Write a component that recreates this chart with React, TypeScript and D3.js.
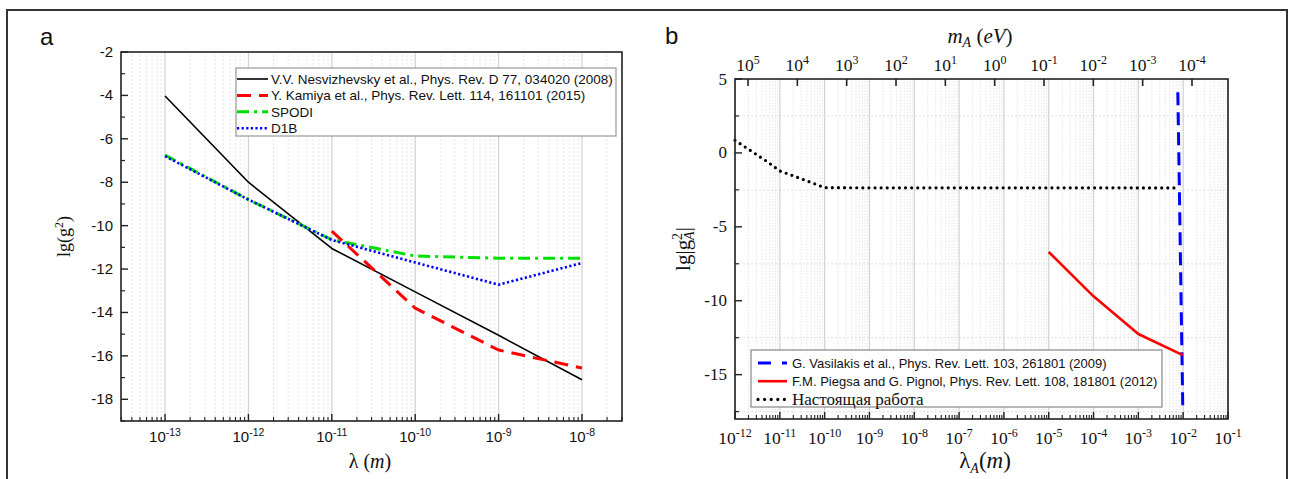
import React from "react";
import * as d3 from "d3";

// ---------- Panel a data: lg(g^2) vs lambda ----------
const lambdaA = [1e-13, 1e-12, 1e-11, 1e-10, 1e-9, 1e-8];
const nesvizhevsky = [-4.03, -8.0, -11.05, -13.05, -15.05, -17.1];
const kamiyaLambda = [1e-11, 1e-10, 1e-9, 1e-8];
const kamiya = [-10.25, -13.8, -15.73, -16.56];
const spodi = [-6.75, -8.8, -10.65, -11.4, -11.5, -11.5];
const d1b = [-6.8, -8.8, -10.66, -11.7, -12.72, -11.72];
const legendA = [
  "V.V. Nesvizhevsky et al., Phys. Rev. D 77, 034020 (2008)",
  "Y. Kamiya et al., Phys. Rev. Lett. 114, 161101 (2015)",
  "SPODI",
  "D1B",
];
const yTicksA = [-2, -4, -6, -8, -10, -12, -14, -16, -18];
const xTickExpA = [-13, -12, -11, -10, -9, -8];

// ---------- Panel b data: lg|g_A^2| vs lambda_A ----------
const vasilakisLambda = [7.6e-3, 9.8e-3];
const vasilakis = [4.1, -17.3];
const piegsaLambda = [1e-5, 1e-4, 1e-3, 9.8e-3];
const piegsa = [-6.7, -9.7, -12.25, -13.68];
const presentLambda = [1e-12, 2e-12, 5e-12, 1e-11, 2e-11, 5e-11, 1e-10, 1e-9, 1e-8, 1e-6, 1e-4, 7.85e-3];
const present = [0.85, 0.25, -0.55, -1.22, -1.55, -2.0, -2.35, -2.36, -2.36, -2.36, -2.36, -2.37];
const legendB = [
  "G. Vasilakis et al., Phys. Rev. Lett. 103, 261801 (2009)",
  "F.M. Piegsa and G. Pignol, Phys. Rev. Lett. 108, 181801 (2012)",
  "Настоящая работа",
];
const yTicksB = [5, 0, -5, -10, -15];
const yMinorB = [2.5, -2.5, -7.5, -12.5, -17.5];
const xTickExpB = [-12, -11, -10, -9, -8, -7, -6, -5, -4, -3, -2, -1];
const massTickExp = [5, 4, 3, 2, 1, 0, -1, -2, -3, -4];

const SANS = "'Liberation Sans', Arial, sans-serif";
const SERIF = "'Liberation Serif', 'Times New Roman', serif";
const GRID = "#d4d4d4";
const GRID_MINOR = "#e0e0e0";

function minorLogValues(lo: number, hi: number) {
  const out: number[] = [];
  for (let e = Math.floor(Math.log10(lo)); e <= Math.ceil(Math.log10(hi)); e++) {
    for (let k = 2; k <= 9; k++) {
      const v = k * Math.pow(10, e);
      if (v > lo && v < hi) out.push(v);
    }
  }
  return out;
}

function Pow({ x, y, exp, size, sup, anchor = "middle", family }: any) {
  return (
    <text x={x} y={y} fontSize={size} fontFamily={family} textAnchor={anchor} fill="#111">
      <tspan>10</tspan>
      <tspan dy={-size * 0.42} fontSize={sup}>{String(exp)}</tspan>
    </text>
  );
}

function PanelA() {
  const x = d3.scaleLog().domain([Math.pow(10, -13.528), Math.pow(10, -7.52)]).range([121, 622]);
  const y = d3.scaleLinear().domain([-19, -2]).range([421, 52]);
  const [x0, x1] = x.range();
  const [yb, yt] = y.range();
  const line = d3.line<[number, number]>().x((d) => x(d[0])).y((d) => y(d[1]));
  const pts = (xs: number[], ys: number[]) => xs.map((v, i) => [v, ys[i]] as [number, number]);
  const majors = xTickExpA.map((e) => Math.pow(10, e));
  const minors = minorLogValues(x.domain()[0], x.domain()[1]);
  const yMinor = d3.range(-19, -2, 1).filter((v) => v % 2 !== 0);

  const series = [
    { d: pts(lambdaA, nesvizhevsky), stroke: "#000", w: 1.6, dash: "" },
    { d: pts(kamiyaLambda, kamiya), stroke: "#ff0000", w: 3, dash: "14 8" },
    { d: pts(lambdaA, spodi), stroke: "#00e000", w: 3, dash: "12 5 3 5" },
    { d: pts(lambdaA, d1b), stroke: "#0000ff", w: 2.6, dash: "2.2 2.4" },
  ];
  const legendX = 236, legendY = 68;
  return (
    <g>
      {/* vertical grid */}
      {minors.map((v, i) => (
        <line key={"m" + i} x1={x(v)} x2={x(v)} y1={yb} y2={yt} stroke={GRID_MINOR} strokeWidth={0.8} strokeDasharray="2 2" />
      ))}
      {majors.map((v, i) => (
        <line key={"M" + i} x1={x(v)} x2={x(v)} y1={yb} y2={yt} stroke={GRID} strokeWidth={1.3} />
      ))}
      {series.map((s, i) => (
        <path key={i} d={line(s.d) || ""} fill="none" stroke={s.stroke} strokeWidth={s.w}
          strokeDasharray={s.dash || undefined} strokeLinejoin="round" />
      ))}
      {/* frame */}
      <rect x={x0} y={yt} width={x1 - x0} height={yb - yt} fill="none" stroke="#222" strokeWidth={1.6} />
      {/* y ticks */}
      {yTicksA.map((v) => (
        <g key={v}>
          <line x1={x0} x2={x0 + 7} y1={y(v)} y2={y(v)} stroke="#222" strokeWidth={1.4} />
          <text x={x0 - 8} y={y(v) + 5} fontSize={15} fontFamily={SANS} textAnchor="end" fill="#111">{v}</text>
        </g>
      ))}
      {yMinor.map((v) => (
        <line key={"ym" + v} x1={x0} x2={x0 + 4} y1={y(v)} y2={y(v)} stroke="#222" strokeWidth={1.2} />
      ))}
      {/* x ticks */}
      {majors.map((v, i) => (
        <g key={"xt" + i}>
          <line x1={x(v)} x2={x(v)} y1={yb} y2={yb - 7} stroke="#222" strokeWidth={1.4} />
          <Pow x={x(v)} y={442} exp={xTickExpA[i]} size={15} sup={10.5} family={SANS} />
        </g>
      ))}
      {minors.map((v, i) => (
        <line key={"xm" + i} x1={x(v)} x2={x(v)} y1={yb} y2={yb - 4} stroke="#222" strokeWidth={1.1} />
      ))}
      {/* legend */}
      <rect x={legendX} y={legendY} width={380} height={68} fill="#fff" stroke="#999" strokeWidth={1.2} />
      {series.map((s, i) => {
        const ly = legendY + 11 + i * 16.4;
        return (
          <g key={"lg" + i}>
            <line x1={legendX + 1} x2={legendX + 32} y1={ly} y2={ly} stroke={s.stroke} strokeWidth={s.w}
              strokeDasharray={s.dash || undefined} />
            <text x={legendX + 35} y={ly + 5} fontSize={13.5} fontFamily={SANS} fill="#111">{legendA[i]}</text>
          </g>
        );
      })}
      {/* axis titles */}
      <text x={40} y={45} fontSize={24} fontFamily={SANS} fill="#111">a</text>
      <text transform={`translate(70,${(yt + yb) / 2}) rotate(-90)`} textAnchor="middle" fontSize={18}
        fontFamily={SERIF} fill="#111">
        lg(g<tspan dy={-7} fontSize={12}>2</tspan><tspan dy={7}>)</tspan>
      </text>
      <text x={370} y={468} textAnchor="middle" fontSize={20} fontFamily={SERIF} fill="#111">
        λ (<tspan fontStyle="italic">m</tspan>)
      </text>
    </g>
  );
}

function PanelB() {
  const x = d3.scaleLog().domain([1e-12, 1e-1]).range([735, 1228]);
  const m = d3.scaleLog().domain([Math.pow(10, 5.264), Math.pow(10, -4.73)]).range([735, 1228]);
  const y = d3.scaleLinear().domain([-18, 5]).range([419, 79]);
  const [x0, x1] = x.range();
  const [yb, yt] = y.range();
  const line = d3.line<[number, number]>().x((d) => x(d[0])).y((d) => y(d[1]));
  const pts = (xs: number[], ys: number[]) => xs.map((v, i) => [v, ys[i]] as [number, number]);
  const majors = xTickExpB.map((e) => Math.pow(10, e));
  const minors = minorLogValues(1e-12, 1e-1);

  const series = [
    { d: pts(vasilakisLambda, vasilakis), stroke: "#0000ff", w: 3, dash: "13 7", cap: "butt" },
    { d: pts(piegsaLambda, piegsa), stroke: "#ff0000", w: 2.6, dash: "", cap: "butt" },
    { d: pts(presentLambda, present), stroke: "#000", w: 3.2, dash: "0 6.1", cap: "round" },
  ];
  const legendX = 751, legendY = 350;
  return (
    <g>
      {/* grid */}
      {minors.map((v, i) => (
        <line key={"m" + i} x1={x(v)} x2={x(v)} y1={yb} y2={yt} stroke={GRID_MINOR} strokeWidth={0.8} strokeDasharray="1.5 1.5" />
      ))}
      {yMinorB.map((v) => (
        <line key={"h" + v} x1={x0} x2={x1} y1={y(v)} y2={y(v)} stroke={GRID_MINOR} strokeWidth={1} strokeDasharray="2 2" />
      ))}
      {majors.map((v, i) => (
        <line key={"M" + i} x1={x(v)} x2={x(v)} y1={yb} y2={yt} stroke={GRID} strokeWidth={1.3} />
      ))}
      {series.map((s, i) => (
        <path key={i} d={line(s.d) || ""} fill="none" stroke={s.stroke} strokeWidth={s.w}
          strokeDasharray={s.dash || undefined} strokeLinecap={s.cap as any} strokeLinejoin="round" />
      ))}
      <rect x={x0} y={yt} width={x1 - x0} height={yb - yt} fill="none" stroke="#222" strokeWidth={1.6} />
      {/* y axis */}
      {yTicksB.map((v) => (
        <g key={v}>
          <line x1={x0} x2={x0 + 7} y1={y(v)} y2={y(v)} stroke="#222" strokeWidth={1.4} />
          <text x={x0 - 8} y={y(v) + 5.5} fontSize={17} fontFamily={SERIF} textAnchor="end" fill="#111">{v}</text>
        </g>
      ))}
      {yMinorB.map((v) => (
        <line key={"ym" + v} x1={x0} x2={x0 + 4} y1={y(v)} y2={y(v)} stroke="#222" strokeWidth={1.2} />
      ))}
      {/* bottom axis */}
      {majors.map((v, i) => (
        <g key={"xt" + i}>
          <line x1={x(v)} x2={x(v)} y1={yb} y2={yb - 7} stroke="#222" strokeWidth={1.4} />
          <Pow x={x(v)} y={444} exp={xTickExpB[i]} size={17.5} sup={12} family={SERIF} />
        </g>
      ))}
      {minors.map((v, i) => (
        <line key={"xm" + i} x1={x(v)} x2={x(v)} y1={yb} y2={yb - 4} stroke="#222" strokeWidth={1.1} />
      ))}
      {/* top axis: mass */}
      {massTickExp.map((e) => (
        <g key={"mt" + e}>
          <line x1={m(Math.pow(10, e))} x2={m(Math.pow(10, e))} y1={yt} y2={yt + 7} stroke="#222" strokeWidth={1.6} />
          <Pow x={m(Math.pow(10, e))} y={71} exp={e} size={17.5} sup={12} family={SERIF} />
        </g>
      ))}
      {/* legend */}
      <rect x={legendX} y={legendY} width={411} height={57} fill="#fff" stroke="#888" strokeWidth={1.2} />
      {series.map((s, i) => {
        const ly = legendY + 13 + i * 18.2;
        return (
          <g key={"lg" + i}>
            <line x1={legendX + 7} x2={legendX + 36} y1={ly} y2={ly} stroke={s.stroke} strokeWidth={s.w}
              strokeDasharray={s.dash ? (i === 0 ? "13 11" : "0 6.6") : undefined}
              strokeLinecap={s.cap as any} />
            <text x={legendX + 41} y={ly + (i === 2 ? 6 : 5)} fontSize={i === 2 ? 17 : 13}
              fontFamily={i === 2 ? SERIF : SANS} fill="#111">{legendB[i]}</text>
          </g>
        );
      })}
      {/* titles */}
      <text x={665} y={44} fontSize={24} fontFamily={SANS} fill="#111">b</text>
      <text x={980} y={43} textAnchor="middle" fontSize={21} fontFamily={SERIF} fill="#111">
        <tspan fontStyle="italic">m</tspan><tspan fontStyle="italic" fontSize={14} dy={4}>A</tspan>
        <tspan dy={-4}> (</tspan><tspan fontStyle="italic">eV</tspan>)
      </text>
      <text x={985} y={468} textAnchor="middle" fontSize={23} fontFamily={SERIF} fill="#111">
        λ<tspan fontSize={14} fontStyle="italic" dy={5}>A</tspan><tspan dy={-5}>(</tspan>
        <tspan fontStyle="italic">m</tspan>)
      </text>
      <text transform={`translate(690,${(yt + yb) / 2}) rotate(-90)`} textAnchor="middle" fontSize={21}
        fontFamily={SERIF} fill="#111">
        lg|g<tspan dy={-8} fontSize={14}>2</tspan>
        <tspan dx={-7} dy={12} fontSize={14} fontStyle="italic">A</tspan>
        <tspan dy={-4}>|</tspan>
      </text>
    </g>
  );
}

export default function App() {
  return (
    <div style={{ position: "absolute", left: 0, top: 0 }}>
      <svg width={1291} height={479} viewBox="0 0 1291 479" style={{ display: "block", background: "#fff" }}>
        <rect x={0} y={0} width={1291} height={479} fill="#fff" />
        <rect x={7} y={10} width={1280} height={480} fill="none" stroke="#333" strokeWidth={2} />
        <PanelA />
        <PanelB />
      </svg>
    </div>
  );
}
